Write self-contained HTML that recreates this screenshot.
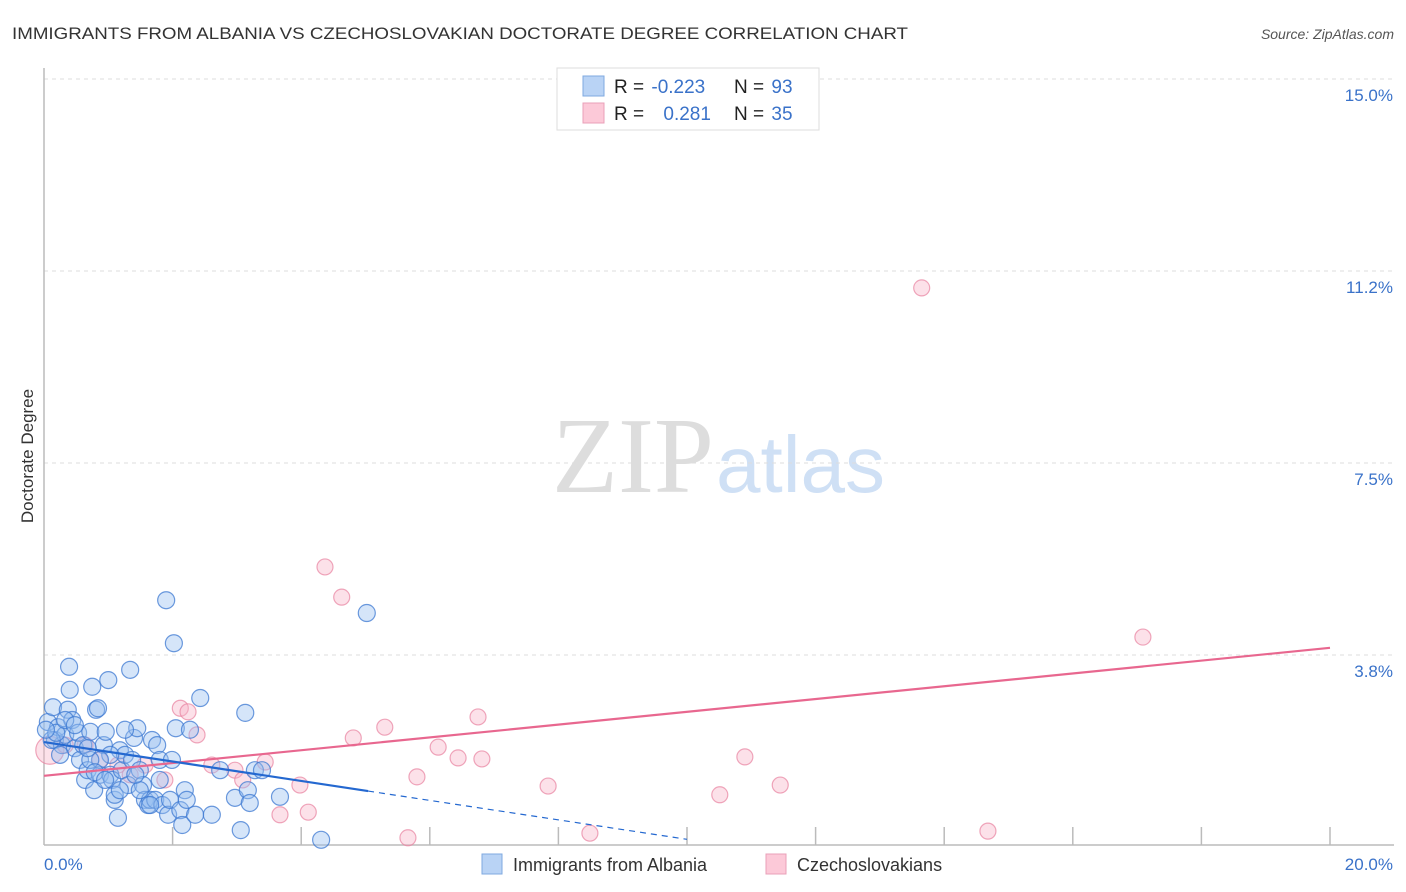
<!DOCTYPE html>
<html><head><meta charset="utf-8">
<style>
body{margin:0;background:#fff;font-family:"Liberation Sans",sans-serif;}
#wrap{position:relative;width:1406px;height:892px;overflow:hidden;}
</style></head>
<body>
<div id="wrap">
<svg id="svg" width="1406" height="892" xmlns="http://www.w3.org/2000/svg">
<text x="12" y="39" font-size="17" fill="#333" textLength="896" lengthAdjust="spacingAndGlyphs">IMMIGRANTS FROM ALBANIA VS CZECHOSLOVAKIAN DOCTORATE DEGREE CORRELATION CHART</text>
<text x="1394" y="39" font-size="14" fill="#555" font-style="italic" text-anchor="end">Source: ZipAtlas.com</text>
<text x="714" y="492" font-size="108" fill="#ddd" font-family="Liberation Serif,serif" text-anchor="end">ZIP</text>
<text x="716" y="492" font-size="80" fill="#cfe0f5">atlas</text>
<text transform="translate(33,456) rotate(-90)" font-size="17" fill="#333" text-anchor="middle">Doctorate Degree</text>
<g id="grid"></g>
<g id="marks"></g>
<g id="lines"></g>
<g>
<rect x="557" y="68" width="262" height="62" fill="#fff" stroke="#ddd"/>
<rect x="583" y="76" width="21" height="20" fill="#b9d3f5" stroke="#7fa9e0"/>
<rect x="583" y="103" width="21" height="20" fill="#fcc9d8" stroke="#eaa0b8"/>
<text x="614" y="93" font-size="19" fill="#222">R = <tspan fill="#3a72c9" dx="2">-0.223</tspan></text>
<text x="734" y="93" font-size="19" fill="#222">N = <tspan fill="#3a72c9" dx="2">93</tspan></text>
<text x="614" y="120" font-size="19" fill="#222">R = <tspan fill="#3a72c9" dx="14">0.281</tspan></text>
<text x="734" y="120" font-size="19" fill="#222">N = <tspan fill="#3a72c9" dx="2">35</tspan></text>
</g>
<g>
<rect x="482" y="854" width="20" height="20" fill="#b9d3f5" stroke="#7fa9e0"/>
<text x="513" y="871" font-size="18" fill="#333">Immigrants from Albania</text>
<rect x="766" y="854" width="20" height="20" fill="#fcc9d8" stroke="#eaa0b8"/>
<text x="797" y="871" font-size="18" fill="#333">Czechoslovakians</text>
</g>
</svg>
</div>
<script>
const xTickLabels=["0.0%","20.0%"];
const yTicks=[3.75,7.5,11.25,15];
const yTickLabels=["3.8%","7.5%","11.2%","15.0%"];
const xTickVals=[2,4,6,8,10,12,14,16,18,20];
const blueX=[0.06,0.14,0.17,0.22,0.28,0.33,0.37,0.40,0.39,0.44,0.48,0.53,0.56,0.61,0.64,0.68,0.72,0.75,0.78,0.81,0.84,0.87,0.93,0.96,1.00,1.03,1.06,1.10,1.15,1.18,1.21,1.26,1.31,1.34,1.37,1.40,1.45,1.49,1.54,1.57,1.62,1.65,1.68,1.73,1.76,1.80,1.84,1.90,1.93,1.96,1.99,2.02,2.05,2.12,2.15,2.19,2.22,2.27,2.35,2.43,2.61,2.74,2.97,3.06,3.13,3.17,3.20,3.28,3.39,3.67,4.31,5.02,1.65,1.49,1.26,1.03,0.87,0.72,0.25,0.12,0.19,0.03,0.33,0.48,0.68,0.79,0.95,1.10,1.18,1.42,1.80];
const blueY=[2.44,2.73,2.09,2.34,1.99,2.19,2.68,3.07,3.52,2.48,1.93,2.23,1.70,1.99,1.31,1.50,2.25,3.13,1.11,2.68,2.71,1.41,1.99,2.25,3.26,1.41,1.31,0.92,0.57,1.89,1.50,1.80,1.21,3.46,1.70,2.13,2.32,1.50,1.21,0.92,0.82,0.92,2.09,0.92,1.99,1.70,0.82,4.82,0.63,0.92,1.70,3.98,2.32,0.72,0.43,1.11,0.92,2.29,0.63,2.91,0.63,1.50,0.96,0.33,2.62,1.11,0.86,1.50,1.50,0.98,0.14,4.57,0.82,1.11,2.29,1.80,1.70,1.70,1.80,2.09,2.23,2.29,2.48,2.38,1.93,1.46,1.31,1.02,1.11,1.41,1.31];
const pinkX=[0.09,0.33,0.64,0.87,1.15,1.34,1.57,1.88,2.12,2.24,2.38,2.61,2.97,3.09,3.44,3.67,3.98,4.11,4.37,4.63,4.81,5.30,5.66,5.80,6.13,6.44,6.75,6.81,7.84,8.49,10.51,10.90,11.45,13.65,14.68,17.09];
const pinkY=[1.89,1.99,1.99,1.70,1.60,1.41,1.60,1.31,2.71,2.64,2.19,1.60,1.50,1.31,1.66,0.63,1.21,0.68,5.47,4.88,2.13,2.34,0.18,1.37,1.95,1.74,2.54,1.72,1.19,0.27,1.02,1.76,1.21,10.92,0.31,4.10];
const blueTrend=[2.05,-0.19];
const pinkTrend=[1.39,0.125];
const blueSolidEnd=5.04, blueDashEnd=10.0;

(function(){
const NS="http://www.w3.org/2000/svg";
const sx=v=>44+v*64.3;
const sy=v=>847-v*51.2;
function mk(tag,attrs,parent){const e=document.createElementNS(NS,tag);for(const k in attrs)e.setAttribute(k,attrs[k]);parent.appendChild(e);return e;}
const grid=document.getElementById('grid'),marks=document.getElementById('marks'),lines=document.getElementById('lines');
yTicks.forEach((t,i)=>{
  const l=mk('line',{x1:44,x2:1394,y1:sy(t),y2:sy(t),stroke:'#ddd','stroke-dasharray':'4,4'},grid);
  
  
  const tx=mk('text',{x:1393,y:sy(t)+22,'font-size':17,fill:'#3a72c9','text-anchor':'end'},grid);
  tx.textContent=yTickLabels[i];
  
  
});
const topLine=mk('line',{x1:44,x2:1394,y1:79,y2:79,stroke:'#ddd','stroke-dasharray':'4,4'},grid);


const ya=mk('line',{x1:44,x2:44,y1:68,y2:845,stroke:'#bbb','stroke-width':1.5},grid);


const xa=mk('line',{x1:44,x2:1394,y1:845,y2:845,stroke:'#bbb','stroke-width':1.5},grid);


xTickVals.forEach(t=>{
  const l=mk('line',{x1:sx(t),x2:sx(t),y1:827,y2:845,stroke:'#bbb','stroke-width':1.5},grid);
  
  
});
const xl0=mk('text',{x:44,y:870,'font-size':17,fill:'#3a72c9'},grid);xl0.textContent=xTickLabels[0];


const xl1=mk('text',{x:1393,y:870,'font-size':17,fill:'#3a72c9','text-anchor':'end'},grid);xl1.textContent=xTickLabels[1];



pinkX.forEach((x,i)=>{
  const c=mk('circle',{cx:sx(x),cy:sy(pinkY[i]),r:i===0?14:8,fill:'rgba(248,180,200,0.4)',stroke:'rgba(232,130,160,0.7)','stroke-width':1.2},marks);
  
  
});
blueX.forEach((x,i)=>{
  const c=mk('circle',{cx:sx(x),cy:sy(blueY[i]),r:8.5,fill:'rgba(150,190,240,0.4)',stroke:'rgba(60,120,210,0.75)','stroke-width':1.2},marks);
  
  
});
const pl=mk('line',{x1:sx(0),y1:sy(pinkTrend[0]),x2:sx(20),y2:sy(pinkTrend[0]+pinkTrend[1]*20),stroke:'#e8678f','stroke-width':2.2},lines);


const bl=mk('line',{x1:sx(0),y1:sy(blueTrend[0]),x2:sx(blueSolidEnd),y2:sy(blueTrend[0]+blueTrend[1]*blueSolidEnd),stroke:'#2468d0','stroke-width':2.2},lines);


const bd=mk('line',{x1:sx(blueSolidEnd),y1:sy(blueTrend[0]+blueTrend[1]*blueSolidEnd),x2:sx(blueDashEnd),y2:sy(blueTrend[0]+blueTrend[1]*blueDashEnd),stroke:'#2468d0','stroke-width':1.2,'stroke-dasharray':'6,5'},lines);


})();
</script>
</body></html>
